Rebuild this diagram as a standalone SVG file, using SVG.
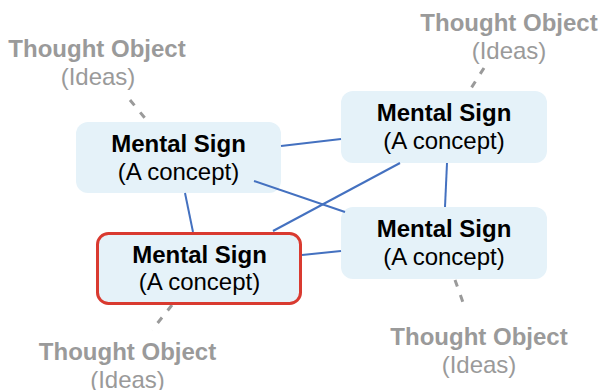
<svg xmlns="http://www.w3.org/2000/svg" width="600" height="390" viewBox="0 0 600 390">
<style>
.node{fill:#e5f2f9;}
.sel{fill:#e5f2f9;stroke:#d93a30;stroke-width:3;}
.t1{font-family:"Liberation Sans",Arial,sans-serif;font-size:24px;font-weight:bold;fill:#000;text-anchor:middle;}
.t2{font-family:"Liberation Sans",Arial,sans-serif;font-size:24px;fill:#000;text-anchor:middle;}
.g1{font-family:"Liberation Sans",Arial,sans-serif;font-size:24px;font-weight:bold;fill:#9a9a9a;text-anchor:middle;}
.g2{font-family:"Liberation Sans",Arial,sans-serif;font-size:24px;fill:#9a9a9a;text-anchor:middle;}
.edge{stroke:#4471c0;stroke-width:2;fill:none;}
.dash{stroke:#9a9a9a;stroke-width:3;stroke-dasharray:7 9;fill:none;}
</style>
<rect width="600" height="390" fill="#fff"/>
<g id="nodeA">
<rect class="node" x="76" y="122" width="205" height="71" rx="12"/>
<text class="t1" x="178.5" y="152">Mental Sign</text>
<text class="t2" x="178.5" y="180">(A concept)</text>
</g>
<g id="nodeB">
<rect class="node" x="341" y="91" width="206" height="72" rx="12"/>
<text class="t1" x="444" y="121">Mental Sign</text>
<text class="t2" x="444" y="149">(A concept)</text>
</g>
<g id="nodeD">
<rect class="node" x="341" y="207" width="206" height="72" rx="12"/>
<text class="t1" x="444" y="237">Mental Sign</text>
<text class="t2" x="444" y="265">(A concept)</text>
</g>
<g id="connectors">
<line class="edge" x1="281" y1="146" x2="341" y2="139"/>
<line class="edge" x1="254" y1="181" x2="345" y2="212"/>
<line class="edge" x1="185" y1="193" x2="193" y2="232"/>
<line class="edge" x1="400" y1="163" x2="273" y2="231"/>
<line class="edge" x1="447" y1="163" x2="445" y2="207"/>
<line class="edge" x1="302" y1="255" x2="341" y2="251"/>
<line class="dash" x1="130" y1="100" x2="149" y2="123"/>
<line class="dash" x1="484" y1="68" x2="468" y2="93"/>
<line class="dash" x1="172" y1="305" x2="152" y2="330"/>
<line class="dash" x1="455" y1="280" x2="465" y2="308"/>
</g>
<g id="nodeC">
<rect class="sel" x="97.5" y="233.5" width="203" height="70" rx="11"/>
<text class="t1" x="199.5" y="263">Mental Sign</text>
<text class="t2" x="199.5" y="290">(A concept)</text>
</g>
<g id="thoughtTL">
<text class="g1" x="97" y="57">Thought Object</text>
<text class="g2" x="98" y="85">(Ideas)</text>
</g>
<g id="thoughtTR">
<text class="g1" x="509" y="31">Thought Object</text>
<text class="g2" x="509" y="59">(Ideas)</text>
</g>
<g id="thoughtBL">
<text class="g1" x="127.5" y="360">Thought Object</text>
<text class="g2" x="127.5" y="388">(Ideas)</text>
</g>
<g id="thoughtBR">
<text class="g1" x="479" y="345">Thought Object</text>
<text class="g2" x="479" y="373">(Ideas)</text>
</g>
</svg>
